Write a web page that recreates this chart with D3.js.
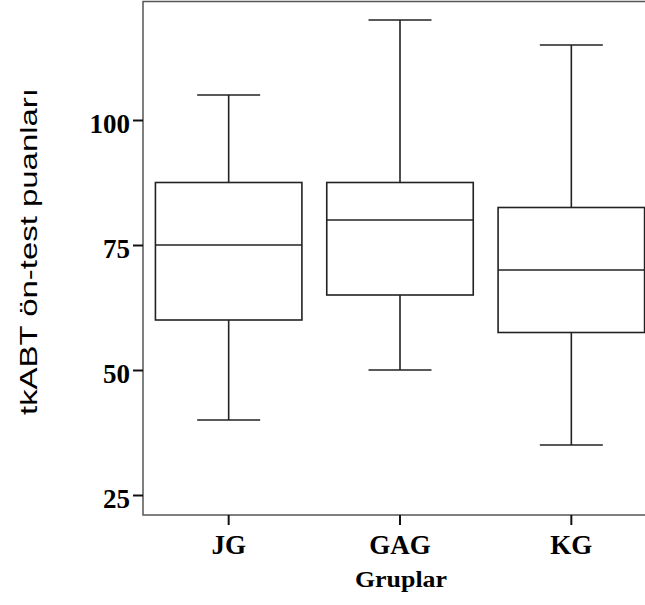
<!DOCTYPE html>
<html>
<head>
<meta charset="utf-8">
<script src="https://cdn.jsdelivr.net/npm/d3@7"></script>
<style>
  body { margin: 0; background: #fff; }
  svg { display: block; }
  .tick text { font-family: "Liberation Serif", "DejaVu Serif", serif; font-weight: bold; fill: #000; }
</style>
</head>
<body>
<svg></svg>
<script>
// group data
const groups = ["JG", "GAG", "KG"];
const whiskerMin = [40, 50, 35];
const q1 = [60, 65, 57.5];
const median = [75, 80, 70];
const q3 = [87.5, 87.5, 82.5];
const whiskerMax = [105, 120, 115];
const yTicks = [25, 50, 75, 100];

const w = 645;
const h = 605;

const boxes = groups.map((g, i) => ({
  group: g, min: whiskerMin[i], q1: q1[i], med: median[i], q3: q3[i], max: whiskerMax[i]
}));

const chart = d3.select("svg")
  .attr("width", w)
  .attr("height", h);

// scales - plot area runs past the right edge of the window
const x = d3.scaleBand()
  .domain(groups)
  .range([143, 657])
  .padding(0);

const y = d3.scaleLinear()
  .domain([21, 123.7])
  .range([515, 1.5]);

const boxW = x.bandwidth() * 0.855;
const capW = boxW * 0.43;

// frame
chart.append("rect")
  .attr("x", 143)
  .attr("y", 1.5)
  .attr("width", 657 - 143)
  .attr("height", 515 - 1.5)
  .attr("fill", "none")
  .attr("stroke", "#555")
  .attr("stroke-width", 1.5);

// axes
const yAxis = chart.append("g")
  .attr("transform", "translate(143,0)")
  .call(d3.axisLeft(y).tickValues(yTicks).tickSize(10).tickPadding(3));
yAxis.select(".domain").remove();
yAxis.selectAll(".tick line").attr("stroke", "#111").attr("stroke-width", 2);
yAxis.selectAll(".tick text")
  .attr("font-size", 27)
  .attr("dy", "0.45em");

const xAxis = chart.append("g")
  .attr("transform", "translate(0,515)")
  .call(d3.axisBottom(x).tickSize(10).tickPadding(6));
xAxis.select(".domain").remove();
xAxis.selectAll(".tick line").attr("stroke", "#111").attr("stroke-width", 2);
xAxis.selectAll(".tick text")
  .attr("font-size", 27)
  .attr("dy", "0.86em");

// axis titles
chart.append("text")
  .attr("transform", "translate(36.5,251.5) rotate(-90)")
  .attr("text-anchor", "middle")
  .attr("font-family", "'Liberation Sans', Arial, sans-serif")
  .attr("font-size", 24)
  .attr("textLength", 327)
  .attr("lengthAdjust", "spacingAndGlyphs")
  .text("tkABT ön-test puanları");

chart.append("text")
  .attr("x", 401)
  .attr("y", 587)
  .attr("text-anchor", "middle")
  .attr("font-family", "'Liberation Serif', serif")
  .attr("font-weight", "bold")
  .attr("font-size", 24)
  .attr("textLength", 92)
  .attr("lengthAdjust", "spacingAndGlyphs")
  .text("Gruplar");

// boxplots
const box = chart.append("g")
  .selectAll(".box")
  .data(boxes)
  .enter()
  .append("g")
  .classed("box", true)
  .attr("stroke", "#222")
  .attr("stroke-width", 1.6)
  .attr("fill", "none");

const cx = d => x(d.group) + x.bandwidth() / 2;

// whiskers
box.append("line")
  .attr("x1", cx).attr("x2", cx)
  .attr("y1", d => y(d.max)).attr("y2", d => y(d.q3));
box.append("line")
  .attr("x1", cx).attr("x2", cx)
  .attr("y1", d => y(d.q1)).attr("y2", d => y(d.min));

// caps
box.append("line")
  .attr("x1", d => cx(d) - capW / 2).attr("x2", d => cx(d) + capW / 2)
  .attr("y1", d => y(d.max)).attr("y2", d => y(d.max));
box.append("line")
  .attr("x1", d => cx(d) - capW / 2).attr("x2", d => cx(d) + capW / 2)
  .attr("y1", d => y(d.min)).attr("y2", d => y(d.min));

// box
box.append("rect")
  .attr("x", d => cx(d) - boxW / 2)
  .attr("y", d => y(d.q3))
  .attr("width", boxW)
  .attr("height", d => y(d.q1) - y(d.q3))
  .attr("fill", "#fff");

// median
box.append("line")
  .attr("x1", d => cx(d) - boxW / 2).attr("x2", d => cx(d) + boxW / 2)
  .attr("y1", d => y(d.med)).attr("y2", d => y(d.med));
</script>
</body>
</html>
